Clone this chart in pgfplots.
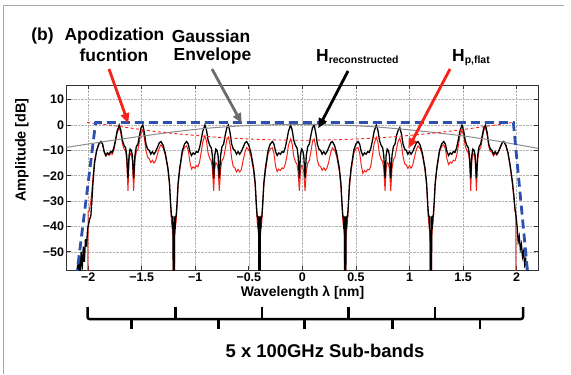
\documentclass[border=0pt]{standalone}
\usepackage{fontspec}
\setmainfont{Liberation Sans}
\usepackage{pgfplots}
\pgfplotsset{compat=1.18}
\usetikzlibrary{arrows.meta}
\newcommand\fs[1]{\fontsize{#1}{#1}\selectfont\bfseries}
\definecolor{mblue}{RGB}{45,80,175}
\definecolor{mred}{RGB}{245,35,25}
\definecolor{mgray}{RGB}{140,140,140}
\begin{document}
\begin{tikzpicture}[x=1bp,y=1bp]
\useasboundingbox (0,0) rectangle (571,374);
\draw[gray!70, line width=0.9bp] (3,0) -- (3,369) -- (564,369);
\begin{axis}[
 at={(66.7bp,104bp)}, anchor=south west, scale only axis,
 width=471.3bp, height=185bp,
 xmin=-2.2, xmax=2.2, ymin=-57.2, ymax=15.8,
 xtick={-2,-1.5,-1,-0.5,0,0.5,1,1.5,2},
 xticklabels={−2,−1.5,−1,−0.5,0,0.5,1,1.5,2},
 ytick={-50,-40,-30,-20,-10,0,10},
 yticklabels={−50,−40,−30,−20,−10,0,10},
 tick align=inside, major tick length=4bp,
 grid=major, major grid style={densely dotted, gray!60, line width=0.5bp},
 axis line style={black!80, line width=0.9bp},
 tick style={black!80, line width=0.7bp},
 ticklabel style={font=\fs{12.5}},
 xticklabel style={inner sep=2.5bp},
 yticklabel style={inner sep=2.5bp},
]
% H_p,flat (red)
\addplot[mred, line width=1.0bp] coordinates {
(-2.005,-75) (-2.0,-34) (-1.99,-34) (-1.975,-30) (-1.965,-26) (-1.955,-21) (-1.94,-14)
(-1.92,-10) (-1.90,-7.5) (-1.88,-6.5) (-1.865,-7.5) (-1.85,-10.6) (-1.835,-12.3) (-1.82,-11.4) (-1.805,-12.0) (-1.79,-11.2) (-1.775,-11.6) (-1.76,-9.9) (-1.745,-6.8) (-1.73,-3.3) (-1.71,-0.9) (-1.695,-3.0) (-1.68,-7.3) (-1.665,-9.4) (-1.65,-10.4) (-1.64,-13.5) (-1.628,-26) (-1.618,-13.6) (-1.608,-11.2) (-1.597,-11.8) (-1.587,-13.8) (-1.575,-26) (-1.563,-14.0) (-1.55,-10.5) (-1.535,-9.6) (-1.52,-6.2) (-1.505,-2.9) (-1.49,-2.0) (-1.475,-5.1) (-1.46,-10.0) (-1.445,-12.6) (-1.43,-13.2) (-1.415,-14.8) (-1.40,-13.9) (-1.385,-15.0) (-1.37,-14.1) (-1.355,-11.8) (-1.335,-8.9) (-1.32,-7.8) (-1.30,-9.0) (-1.28,-11.7) (-1.255,-17.7) (-1.24,-23.7)
(-1.23,-31.5) (-1.222,-38) (-1.216,-40) (-1.212,-42) (-1.208,-41) (-1.204,-75) (-1.196,-75) (-1.192,-41) (-1.188,-42) (-1.184,-40) (-1.178,-38) (-1.17,-31.5)
(-1.16,-23.8) (-1.145,-17.8) (-1.12,-10.8) (-1.10,-8.8) (-1.08,-8.2) (-1.065,-10.1) (-1.05,-14.5) (-1.035,-17.4) (-1.02,-16.5) (-1.005,-17.0) (-0.99,-16.1) (-0.975,-16.5) (-0.96,-14.7) (-0.945,-10.8) (-0.93,-6.7) (-0.91,-4.2) (-0.895,-6.3) (-0.88,-11.1) (-0.865,-13.1) (-0.85,-14.2) (-0.84,-17.2) (-0.828,-26) (-0.818,-17.3) (-0.808,-14.8) (-0.797,-15.3) (-0.787,-17.4) (-0.775,-26) (-0.763,-17.4) (-0.75,-14.0) (-0.735,-13.0) (-0.72,-9.5) (-0.705,-5.7) (-0.69,-4.8) (-0.675,-7.8) (-0.66,-13.2) (-0.645,-16.4) (-0.63,-16.9) (-0.615,-18.5) (-0.60,-17.5) (-0.585,-18.5) (-0.57,-17.6) (-0.555,-14.3) (-0.535,-10.6) (-0.52,-8.9) (-0.50,-9.8) (-0.48,-12.2) (-0.455,-18.2) (-0.44,-24.2)
(-0.43,-31.5) (-0.422,-38) (-0.416,-40) (-0.412,-42) (-0.408,-41) (-0.404,-75) (-0.396,-75) (-0.392,-41) (-0.388,-42) (-0.384,-40) (-0.378,-38) (-0.37,-31.5)
(-0.36,-24.3) (-0.345,-18.3) (-0.32,-11.3) (-0.30,-9.4) (-0.28,-9.0) (-0.265,-11.3) (-0.25,-16.2) (-0.235,-18.4) (-0.22,-17.4) (-0.205,-17.9) (-0.19,-16.9) (-0.175,-17.2) (-0.16,-15.5) (-0.145,-12.5) (-0.13,-8.0) (-0.11,-5.5) (-0.095,-7.5) (-0.08,-12.5) (-0.065,-14.5) (-0.05,-15.5) (-0.04,-18.5) (-0.028,-26) (-0.018,-18.5) (-0.008,-16) (0.003,-16.5) (0.013,-18.5) (0.025,-26) (0.037,-18.5) (0.05,-15) (0.065,-14) (0.08,-10.5) (0.095,-6.5) (0.11,-5.5) (0.125,-8.5) (0.14,-14.0) (0.155,-15.9) (0.17,-16.4) (0.185,-17.9) (0.20,-16.9) (0.215,-17.9) (0.23,-16.9) (0.245,-14.8) (0.265,-10.8) (0.28,-9.0) (0.30,-9.9) (0.32,-12.3) (0.345,-18.3) (0.36,-24.3)
(0.37,-31.5) (0.378,-38) (0.384,-40) (0.388,-42) (0.392,-41) (0.396,-75) (0.404,-75) (0.408,-41) (0.412,-42) (0.416,-40) (0.422,-38) (0.43,-31.5)
(0.44,-24.2) (0.455,-18.2) (0.48,-11.2) (0.50,-9.3) (0.52,-8.9) (0.535,-11.1) (0.55,-15.8) (0.565,-19.1) (0.58,-18.0) (0.595,-18.5) (0.61,-17.5) (0.625,-17.7) (0.64,-15.9) (0.655,-11.7) (0.67,-7.3) (0.69,-4.8) (0.705,-6.7) (0.72,-11.5) (0.735,-13.5) (0.75,-14.5) (0.76,-17.4) (0.772,-26) (0.782,-17.4) (0.792,-14.8) (0.803,-15.3) (0.813,-17.3) (0.825,-26) (0.837,-17.2) (0.85,-13.7) (0.865,-12.6) (0.88,-9.1) (0.895,-6.3) (0.91,-5.2) (0.925,-7.7) (0.94,-12.4) (0.955,-15.3) (0.97,-15.7) (0.985,-17.1) (1.00,-16.1) (1.015,-17.0) (1.03,-15.9) (1.045,-13.0) (1.065,-9.6) (1.08,-8.2) (1.10,-9.3) (1.12,-11.8) (1.145,-17.8) (1.16,-23.8)
(1.17,-31.5) (1.178,-38) (1.184,-40) (1.188,-42) (1.192,-41) (1.196,-75) (1.204,-75) (1.208,-41) (1.212,-42) (1.216,-40) (1.222,-38) (1.23,-31.5)
(1.24,-23.7) (1.255,-17.7) (1.28,-10.7) (1.30,-8.5) (1.32,-7.8) (1.335,-9.4) (1.35,-13.3) (1.365,-15.6) (1.38,-14.6) (1.395,-15.0) (1.41,-13.9) (1.425,-14.1) (1.44,-12.2) (1.455,-8.6) (1.47,-4.6) (1.49,-2.0) (1.505,-3.9) (1.52,-8.2) (1.535,-10.1) (1.55,-11.0) (1.56,-14.0) (1.572,-26) (1.582,-13.9) (1.592,-11.3) (1.603,-11.7) (1.613,-13.7) (1.625,-26) (1.637,-13.5) (1.65,-9.9) (1.665,-8.9) (1.68,-5.3) (1.695,-2.0) (1.71,-0.9) (1.725,-3.8) (1.74,-8.4) (1.755,-10.4) (1.77,-10.8) (1.785,-12.2) (1.80,-11.1) (1.815,-11.9) (1.83,-10.8) (1.845,-9.2) (1.865,-7) (1.88,-6.5) (1.90,-8)
(1.92,-11) (1.94,-16.5) (1.96,-23) (1.975,-29) (1.985,-34) (1.992,-34) (1.995,-75)
};
% H_reconstructed (black)
\addplot[black, line width=1.3bp] coordinates {
(-2.11,-60) (-2.10,-56) (-2.09,-58) (-2.085,-52) (-2.075,-57.5) (-2.065,-50) (-2.055,-57) (-2.045,-48) (-2.035,-54) (-2.025,-45) (-2.015,-48) (-2.005,-41) (-1.995,-39) (-1.985,-37) (-1.975,-36) (-1.965,-30) (-1.955,-23) (-1.94,-15)
(-1.92,-10) (-1.90,-7.5) (-1.88,-6.5) (-1.865,-7.5) (-1.85,-10.5) (-1.835,-12) (-1.82,-11) (-1.805,-11.5) (-1.79,-10.5) (-1.775,-10.8) (-1.76,-9) (-1.745,-6) (-1.73,-2.5) (-1.71,0) (-1.695,-2) (-1.68,-6) (-1.665,-8) (-1.65,-9) (-1.64,-12) (-1.628,-21) (-1.618,-12) (-1.608,-9.5) (-1.597,-10) (-1.587,-12) (-1.575,-21) (-1.563,-12) (-1.55,-8.5) (-1.535,-7.5) (-1.52,-4) (-1.505,-1) (-1.49,0) (-1.475,-3) (-1.46,-7.5) (-1.445,-9.5) (-1.43,-10) (-1.415,-11.5) (-1.40,-10.5) (-1.385,-11.5) (-1.37,-10.5) (-1.355,-9) (-1.335,-7) (-1.32,-6.5) (-1.30,-8) (-1.28,-11) (-1.255,-17) (-1.24,-23)
(-1.23,-31) (-1.222,-36) (-1.216,-36) (-1.212,-41) (-1.208,-36) (-1.204,-75) (-1.196,-75) (-1.192,-36) (-1.188,-41) (-1.184,-36) (-1.178,-36) (-1.17,-31)
(-1.16,-23) (-1.145,-17) (-1.12,-10) (-1.10,-7.5) (-1.08,-6.5) (-1.065,-7.5) (-1.05,-10.5) (-1.035,-12) (-1.02,-11) (-1.005,-11.5) (-0.99,-10.5) (-0.975,-10.8) (-0.96,-9) (-0.945,-6) (-0.93,-2.5) (-0.91,0) (-0.895,-2) (-0.88,-6) (-0.865,-8) (-0.85,-9) (-0.84,-12) (-0.828,-21) (-0.818,-12) (-0.808,-9.5) (-0.797,-10) (-0.787,-12) (-0.775,-21) (-0.763,-12) (-0.75,-8.5) (-0.735,-7.5) (-0.72,-4) (-0.705,-1) (-0.69,0) (-0.675,-3) (-0.66,-7.5) (-0.645,-9.5) (-0.63,-10) (-0.615,-11.5) (-0.60,-10.5) (-0.585,-11.5) (-0.57,-10.5) (-0.555,-9) (-0.535,-7) (-0.52,-6.5) (-0.50,-8) (-0.48,-11) (-0.455,-17) (-0.44,-23)
(-0.43,-31) (-0.422,-36) (-0.416,-36) (-0.412,-41) (-0.408,-36) (-0.404,-75) (-0.396,-75) (-0.392,-36) (-0.388,-41) (-0.384,-36) (-0.378,-36) (-0.37,-31)
(-0.36,-23) (-0.345,-17) (-0.32,-10) (-0.30,-7.5) (-0.28,-6.5) (-0.265,-7.5) (-0.25,-10.5) (-0.235,-12) (-0.22,-11) (-0.205,-11.5) (-0.19,-10.5) (-0.175,-10.8) (-0.16,-9) (-0.145,-6) (-0.13,-2.5) (-0.11,0) (-0.095,-2) (-0.08,-6) (-0.065,-8) (-0.05,-9) (-0.04,-12) (-0.028,-21) (-0.018,-12) (-0.008,-9.5) (0.003,-10) (0.013,-12) (0.025,-21) (0.037,-12) (0.05,-8.5) (0.065,-7.5) (0.08,-4) (0.095,-1) (0.11,0) (0.125,-3) (0.14,-7.5) (0.155,-9.5) (0.17,-10) (0.185,-11.5) (0.20,-10.5) (0.215,-11.5) (0.23,-10.5) (0.245,-9) (0.265,-7) (0.28,-6.5) (0.30,-8) (0.32,-11) (0.345,-17) (0.36,-23)
(0.37,-31) (0.378,-36) (0.384,-36) (0.388,-41) (0.392,-36) (0.396,-75) (0.404,-75) (0.408,-36) (0.412,-41) (0.416,-36) (0.422,-36) (0.43,-31)
(0.44,-23) (0.455,-17) (0.48,-10) (0.50,-7.5) (0.52,-6.5) (0.535,-7.5) (0.55,-10.5) (0.565,-12) (0.58,-11) (0.595,-11.5) (0.61,-10.5) (0.625,-10.8) (0.64,-9) (0.655,-6) (0.67,-2.5) (0.69,0) (0.705,-2) (0.72,-6) (0.735,-8) (0.75,-9) (0.76,-12) (0.772,-21) (0.782,-12) (0.792,-9.5) (0.803,-10) (0.813,-12) (0.825,-21) (0.837,-12) (0.85,-8.5) (0.865,-7.5) (0.88,-4) (0.895,-2) (0.91,-1) (0.925,-3.5) (0.94,-7.5) (0.955,-9.5) (0.97,-10) (0.985,-11.5) (1.00,-10.5) (1.015,-11.5) (1.03,-10.5) (1.045,-9) (1.065,-7) (1.08,-6.5) (1.10,-8) (1.12,-11) (1.145,-17) (1.16,-23)
(1.17,-31) (1.178,-36) (1.184,-36) (1.188,-41) (1.192,-36) (1.196,-75) (1.204,-75) (1.208,-36) (1.212,-41) (1.216,-36) (1.222,-36) (1.23,-31)
(1.24,-23) (1.255,-17) (1.28,-10) (1.30,-7.5) (1.32,-6.5) (1.335,-7.5) (1.35,-10.5) (1.365,-12) (1.38,-11) (1.395,-11.5) (1.41,-10.5) (1.425,-10.8) (1.44,-9) (1.455,-6) (1.47,-2.5) (1.49,0) (1.505,-2) (1.52,-6) (1.535,-8) (1.55,-9) (1.56,-12) (1.572,-21) (1.582,-12) (1.592,-9.5) (1.603,-10) (1.613,-12) (1.625,-21) (1.637,-12) (1.65,-8.5) (1.665,-7.5) (1.68,-4) (1.695,-1) (1.71,0) (1.725,-3) (1.74,-7.5) (1.755,-9.5) (1.77,-10) (1.785,-11.5) (1.80,-10.5) (1.815,-11.5) (1.83,-10.5) (1.845,-9) (1.865,-7) (1.88,-6.5) (1.90,-8)
(1.92,-11) (1.94,-16) (1.96,-22) (1.975,-28) (1.985,-33) (1.995,-36) (2.005,-40) (2.015,-46) (2.025,-44) (2.035,-49) (2.045,-47) (2.055,-52) (2.065,-50) (2.075,-55) (2.085,-53) (2.095,-58) (2.10,-56) (2.11,-60)
};
% Gaussian envelope
\addplot[mgray, line width=1.0bp, smooth] coordinates {
(-2.2,-8.8) (-1.8,-6.2) (-1.5,-4.4) (-1.2,-2.7) (-0.9,-1.3) (-0.6,-0.4) (-0.3,0.1) (0,0.2) (0.3,0) (0.6,-0.5) (0.9,-1.5) (1.2,-2.8) (1.5,-4.3) (1.8,-6.2) (2.2,-9.2)
};
% Apodization function
\addplot[mred, line width=0.9bp, dash pattern=on 3bp off 2.5bp, smooth] coordinates {
(-2.01,1.0) (-1.8,0.0) (-1.6,-1.2) (-1.4,-2.4) (-1.2,-3.3) (-1.0,-4.1) (-0.8,-4.8) (-0.6,-5.3) (-0.4,-5.7) (-0.2,-5.9) (0,-6.0) (0.2,-5.9) (0.4,-5.7) (0.6,-5.3) (0.8,-4.8) (1.0,-4.1) (1.2,-3.3) (1.4,-2.3) (1.6,-1.2) (1.8,0.0) (1.96,1.0)
};
% ideal flat top (blue dashed)
\addplot[mblue, line width=2.8bp, dash pattern=on 9bp off 5bp] coordinates {
(-2.11,-60.4) (-1.93,1) (1.97,1) (2.11,-61.4)
};
\end{axis}
% axis labels
\node[font=\fs{14}] at (302.5,81.5) {Wavelength λ [nm]};
\node[font=\fs{14.5}, rotate=90] at (22,224) {Amplitude [dB]};
% annotations
\node[font=\fs{17.5}] at (42.5,338) {(b)};
\node[font=\fs{17.5}] at (114.5,338) {Apodization};
\node[font=\fs{17.5}] at (114,319) {fucntion};
\node[font=\fs{17.5}] at (211,338) {Gaussian};
\node[font=\fs{17.5}] at (212.5,318) {Envelope};
\node[font=\fs{17.5}, anchor=base west, inner sep=0] at (316,313) {H\textsubscript{\fs{10.5}reconstructed}};
\node[font=\fs{17.5}, anchor=base west, inner sep=0] at (452,313) {H\textsubscript{\fs{10.5}p,flat}};
% arrows
\draw[mred, line width=2.8bp, -{Triangle[length=10bp,width=8.5bp]}] (109,305) -- (128.3,250.7);
\draw[gray!85!black, line width=2.8bp, -{Triangle[length=10bp,width=8.5bp]}] (212,305) -- (241.7,250.7);
\draw[black, line width=2.8bp, -{Triangle[length=10bp,width=8.5bp]}] (348,303) -- (318.3,245.7);
\draw[mred, line width=2.8bp, -{Triangle[length=10bp,width=8.5bp]}] (450,305) -- (408.3,225.7);
% sub-band brace
\draw[black, line width=2.5bp, rounded corners=2bp] (87.5,67) -- (87.5,55) -- (523,55) -- (523,67);
\foreach \x in {175.6,262,348.5,435} \draw[black, line width=2.5bp] (\x,55) -- (\x,67);
\foreach \x in {131.5,218.6,304.4,392.5,480} \draw[black, line width=2.5bp] (\x,55) -- (\x,45);
\node[font=\fs{18.5}] at (325,23) {5 x 100GHz Sub-bands};
\end{tikzpicture}
\end{document}
